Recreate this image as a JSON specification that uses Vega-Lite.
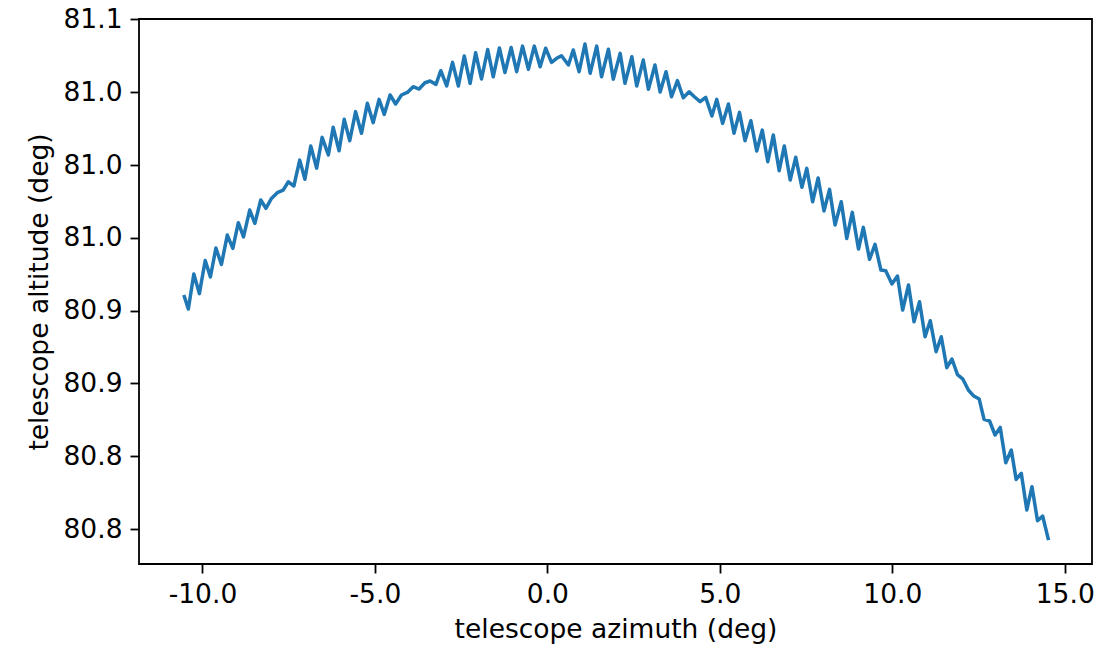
{
  "$schema": "https://vega.github.io/schema/vega-lite/v6.json",
  "autosize": {"type": "none"},
  "padding": {"left": 139, "top": 19, "right": 2, "bottom": 82},
  "width": 953,
  "height": 545,
  "background": "white",
  "config": {
    "view": {"stroke": "black", "strokeWidth": 1.8},
    "axis": {
      "domain": false,
      "grid": false,
      "tickColor": "black",
      "tickSize": 9,
      "tickWidth": 1.8,
      "labelFont": "DejaVu Sans",
      "labelFontSize": 26.5,
      "labelColor": "black",
      "labelPadding": 8,
      "labelFlush": false,
      "labelOverlap": false,
      "titleFont": "DejaVu Sans",
      "titleFontSize": 26.5,
      "titleFontWeight": "normal",
      "titleColor": "black",
      "titlePadding": 9
    }
  },
  "data": {
    "values": [
      {"az": -10.54, "alt": 80.9107}, {"az": -10.41, "alt": 80.9011}, {"az": -10.25, "alt": 80.9251}, {"az": -10.09, "alt": 80.9117},
      {"az": -9.92, "alt": 80.9344}, {"az": -9.77, "alt": 80.9231}, {"az": -9.61, "alt": 80.9430}, {"az": -9.45, "alt": 80.9317},
      {"az": -9.28, "alt": 80.9519}, {"az": -9.12, "alt": 80.9428}, {"az": -8.96, "alt": 80.9604}, {"az": -8.81, "alt": 80.9507},
      {"az": -8.63, "alt": 80.9691}, {"az": -8.48, "alt": 80.9600}, {"az": -8.31, "alt": 80.9760}, {"az": -8.16, "alt": 80.9703},
      {"az": -8.00, "alt": 80.9771}, {"az": -7.83, "alt": 80.9810}, {"az": -7.66, "alt": 80.9828}, {"az": -7.51, "alt": 80.9885},
      {"az": -7.35, "alt": 80.9856}, {"az": -7.18, "alt": 81.0034}, {"az": -7.03, "alt": 80.9902}, {"az": -6.86, "alt": 81.0131},
      {"az": -6.69, "alt": 80.9979}, {"az": -6.53, "alt": 81.0190}, {"az": -6.35, "alt": 81.0069}, {"az": -6.21, "alt": 81.0259},
      {"az": -6.04, "alt": 81.0098}, {"az": -5.89, "alt": 81.0314}, {"az": -5.73, "alt": 81.0167}, {"az": -5.56, "alt": 81.0367},
      {"az": -5.39, "alt": 81.0218}, {"az": -5.22, "alt": 81.0424}, {"az": -5.05, "alt": 81.0291}, {"az": -4.88, "alt": 81.0451},
      {"az": -4.73, "alt": 81.0348}, {"az": -4.56, "alt": 81.0481}, {"az": -4.40, "alt": 81.0419}, {"az": -4.23, "alt": 81.0481},
      {"az": -4.06, "alt": 81.0499}, {"az": -3.89, "alt": 81.0538}, {"az": -3.72, "alt": 81.0522}, {"az": -3.55, "alt": 81.0565},
      {"az": -3.40, "alt": 81.0577}, {"az": -3.23, "alt": 81.0554}, {"az": -3.09, "alt": 81.0648}, {"az": -2.92, "alt": 81.0543},
      {"az": -2.75, "alt": 81.0705}, {"az": -2.58, "alt": 81.0543}, {"az": -2.41, "alt": 81.0749}, {"az": -2.24, "alt": 81.0561},
      {"az": -2.08, "alt": 81.0771}, {"az": -1.91, "alt": 81.0591}, {"az": -1.73, "alt": 81.0793}, {"az": -1.57, "alt": 81.0606},
      {"az": -1.39, "alt": 81.0804}, {"az": -1.23, "alt": 81.0635}, {"az": -1.05, "alt": 81.0807}, {"az": -0.89, "alt": 81.0641},
      {"az": -0.72, "alt": 81.0817}, {"az": -0.55, "alt": 81.0657}, {"az": -0.38, "alt": 81.0817}, {"az": -0.21, "alt": 81.0675},
      {"az": -0.05, "alt": 81.0802}, {"az": 0.12, "alt": 81.0705}, {"az": 0.27, "alt": 81.0733}, {"az": 0.41, "alt": 81.0751},
      {"az": 0.61, "alt": 81.0687}, {"az": 0.75, "alt": 81.0790}, {"az": 0.92, "alt": 81.0641}, {"az": 1.09, "alt": 81.0831},
      {"az": 1.24, "alt": 81.0630}, {"az": 1.43, "alt": 81.0817}, {"az": 1.57, "alt": 81.0606}, {"az": 1.77, "alt": 81.0795},
      {"az": 1.91, "alt": 81.0589}, {"az": 2.11, "alt": 81.0767}, {"az": 2.25, "alt": 81.0561}, {"az": 2.45, "alt": 81.0744},
      {"az": 2.59, "alt": 81.0543}, {"az": 2.78, "alt": 81.0721}, {"az": 2.93, "alt": 81.0520}, {"az": 3.12, "alt": 81.0687},
      {"az": 3.27, "alt": 81.0501}, {"az": 3.44, "alt": 81.0641}, {"az": 3.60, "alt": 81.0469}, {"az": 3.77, "alt": 81.0580},
      {"az": 3.94, "alt": 81.0462}, {"az": 4.11, "alt": 81.0503}, {"az": 4.26, "alt": 81.0469}, {"az": 4.43, "alt": 81.0435},
      {"az": 4.59, "alt": 81.0465}, {"az": 4.77, "alt": 81.0337}, {"az": 4.91, "alt": 81.0451}, {"az": 5.08, "alt": 81.0286},
      {"az": 5.25, "alt": 81.0419}, {"az": 5.41, "alt": 81.0218}, {"az": 5.57, "alt": 81.0362}, {"az": 5.73, "alt": 81.0167},
      {"az": 5.90, "alt": 81.0304}, {"az": 6.07, "alt": 81.0096}, {"az": 6.23, "alt": 81.0240}, {"az": 6.39, "alt": 81.0023},
      {"az": 6.55, "alt": 81.0206}, {"az": 6.72, "alt": 80.9961}, {"az": 6.87, "alt": 81.0131}, {"az": 7.04, "alt": 80.9897},
      {"az": 7.20, "alt": 81.0053}, {"az": 7.38, "alt": 80.9847}, {"az": 7.52, "alt": 80.9977}, {"az": 7.69, "alt": 80.9748},
      {"az": 7.85, "alt": 80.9911}, {"az": 8.02, "alt": 80.9684}, {"az": 8.18, "alt": 80.9833}, {"az": 8.34, "alt": 80.9588},
      {"az": 8.52, "alt": 80.9748}, {"az": 8.68, "alt": 80.9496}, {"az": 8.84, "alt": 80.9675}, {"az": 9.02, "alt": 80.9423},
      {"az": 9.16, "alt": 80.9572}, {"az": 9.34, "alt": 80.9352}, {"az": 9.50, "alt": 80.9455}, {"az": 9.67, "alt": 80.9279},
      {"az": 9.81, "alt": 80.9274}, {"az": 9.99, "alt": 80.9183}, {"az": 10.15, "alt": 80.9238}, {"az": 10.30, "alt": 80.9004},
      {"az": 10.47, "alt": 80.9176}, {"az": 10.63, "alt": 80.8924}, {"az": 10.79, "alt": 80.9061}, {"az": 10.95, "alt": 80.8821},
      {"az": 11.10, "alt": 80.8931}, {"az": 11.27, "alt": 80.8718}, {"az": 11.42, "alt": 80.8821}, {"az": 11.58, "alt": 80.8608},
      {"az": 11.73, "alt": 80.8668}, {"az": 11.89, "alt": 80.8561}, {"az": 12.04, "alt": 80.8532}, {"az": 12.21, "alt": 80.8453},
      {"az": 12.35, "alt": 80.8416}, {"az": 12.52, "alt": 80.8393}, {"az": 12.66, "alt": 80.8253}, {"az": 12.82, "alt": 80.8242},
      {"az": 12.98, "alt": 80.8146}, {"az": 13.13, "alt": 80.8198}, {"az": 13.29, "alt": 80.7955}, {"az": 13.45, "alt": 80.8043},
      {"az": 13.59, "alt": 80.7841}, {"az": 13.74, "alt": 80.7883}, {"az": 13.90, "alt": 80.7631}, {"az": 14.05, "alt": 80.7791},
      {"az": 14.21, "alt": 80.7557}, {"az": 14.36, "alt": 80.7589}, {"az": 14.53, "alt": 80.7424}
    ]
  },
  "mark": {"type": "line", "color": "#1f77b4", "strokeWidth": 3.5, "strokeJoin": "round", "strokeCap": "butt"},
  "encoding": {
    "x": {
      "field": "az",
      "type": "quantitative",
      "scale": {"domain": [-11.84, 15.79], "nice": false, "zero": false},
      "axis": {"title": "telescope azimuth (deg)", "values": [-10, -5, 0, 5, 10, 15], "labelExpr": "replace(format(datum.value, '.1f'), '\u2212', '-')"}
    },
    "y": {
      "field": "alt",
      "type": "quantitative",
      "scale": {"domain": [80.726, 81.1003], "nice": false, "zero": false},
      "axis": {"title": "telescope altitude (deg)", "values": [80.75, 80.8, 80.8500001, 80.9, 80.95, 81.0, 81.05, 81.1], "format": ".1f"}
    },
    "order": {"field": "az", "type": "quantitative"}
  }
}
